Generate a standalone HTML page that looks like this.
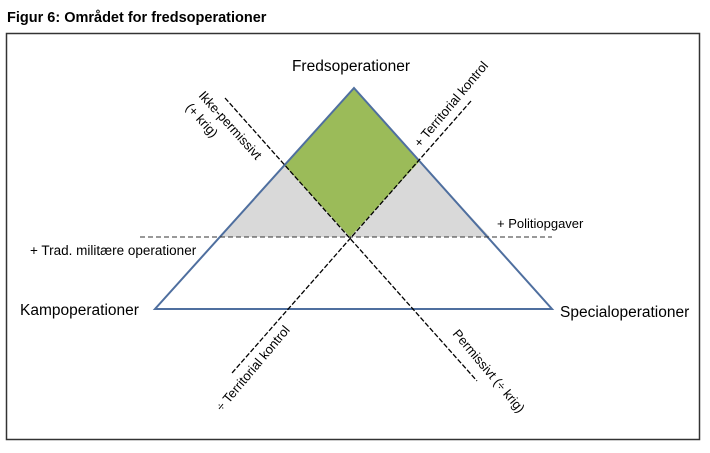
<!DOCTYPE html>
<html><head><meta charset="utf-8"><style>
html,body{margin:0;padding:0;background:#fff;width:710px;height:453px;overflow:hidden}
svg{display:block}
text{font-family:"Liberation Sans",sans-serif;fill:#000}
</style></head><body>
<svg width="710" height="453" viewBox="0 0 710 453">
<text x="7" y="22" font-size="14.5" font-weight="bold">Figur 6: Området for fredsoperationer</text>
<rect x="6.5" y="33.5" width="693" height="406" fill="none" stroke="#333" stroke-width="1.5"/>
<polygon points="219,237 284,165 350,237" fill="#d9d9d9"/>
<polygon points="350,237 419,162 490,237" fill="#d9d9d9"/>
<polygon points="354,88 419,162 350,237 284,165" fill="#9bbb59"/>
<polygon points="354,88 552,309 155,309" fill="none" stroke="#4f6f9f" stroke-width="2"/>
<line x1="140" y1="237" x2="552" y2="237" stroke="#333" stroke-width="1" stroke-dasharray="5,3"/>
<line x1="225" y1="98" x2="477" y2="381" stroke="#000" stroke-width="1.3" stroke-dasharray="5,2"/>
<line x1="471" y1="101" x2="232" y2="373" stroke="#000" stroke-width="1.3" stroke-dasharray="5,2"/>
<text x="351" y="71" font-size="15.5" text-anchor="middle">Fredsoperationer</text>
<text x="20" y="315" font-size="15.5">Kampoperationer</text>
<text x="560" y="317" font-size="15.5">Specialoperationer</text>
<text x="30" y="255" font-size="13.5">+ Trad. militære operationer</text>
<text x="497" y="228" font-size="13">+ Politiopgaver</text>
<text transform="translate(198,96) rotate(48)" font-size="13">Ikke-permissivt</text>
<text transform="translate(185,108) rotate(48)" font-size="13">(+ krig)</text>
<text transform="translate(420,148) rotate(-50)" font-size="13">+ Territorial kontrol</text>
<text transform="translate(222,412) rotate(-50)" font-size="13">÷ Territorial kontrol</text>
<text transform="translate(452,334) rotate(50)" font-size="13">Permissivt (÷ krig)</text>
</svg>
</body></html>
